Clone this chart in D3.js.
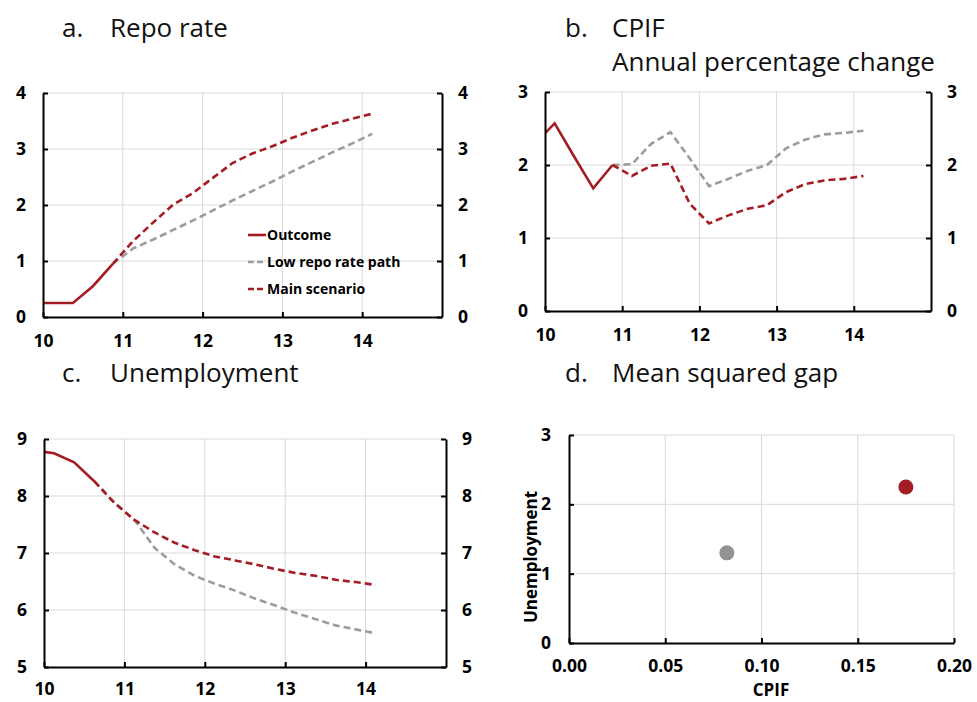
<!DOCTYPE html>
<html>
<head>
<meta charset="utf-8">
<script src="https://cdn.jsdelivr.net/npm/d3@7/dist/d3.min.js"></script>
<style>
  body { margin: 0; background: #fff; }
  text { font-family: "Open Sans", sans-serif; }
</style>
</head>
<body>
<script>
// Repo rate, CPIF and unemployment: outcome vs. two repo rate paths
var width = 977;
var height = 702;

var red = "#a51d24";
var grey = "#9c9c9c";
var gridColor = "#d9d9d9";

// Data (x = year, quarterly mid-points)
var outcomeX = [9.875, 10.125, 10.375, 10.625, 10.875];
var forecastX = [10.875, 11.125, 11.375, 11.625, 11.875, 12.125, 12.375, 12.625,
                 12.875, 13.125, 13.375, 13.625, 13.875, 14.125];

var repoOutcome = [0.25, 0.25, 0.25, 0.55, 0.95];
var repoMain = [0.95, 1.35, 1.68, 2.0, 2.21, 2.48, 2.75, 2.92, 3.05, 3.2, 3.33, 3.45, 3.54, 3.63];
var repoLow = [0.95, 1.22, 1.38, 1.55, 1.72, 1.9, 2.08, 2.25, 2.42, 2.6, 2.77, 2.94, 3.1, 3.27];

var cpifOutcome = [2.3, 2.57, 2.12, 1.68, 2.0];
var cpifMain = [2.0, 1.85, 1.99, 2.02, 1.47, 1.2, 1.31, 1.4, 1.45, 1.63, 1.74, 1.79, 1.81, 1.85];
var cpifLow = [2.0, 2.01, 2.29, 2.45, 2.09, 1.71, 1.81, 1.92, 2.0, 2.23, 2.35, 2.42, 2.44, 2.47];

var unempOutcomeX = [9.875, 10.125, 10.375, 10.625];
var unempForecastX = [10.625, 10.875, 11.125, 11.375, 11.625, 11.875, 12.125, 12.375,
                      12.625, 12.875, 13.125, 13.375, 13.625, 13.875, 14.125];
var unempOutcome = [8.8, 8.75, 8.59, 8.26];
var unempMain = [8.26, 7.88, 7.58, 7.36, 7.18, 7.05, 6.94, 6.87, 6.8, 6.72, 6.65, 6.6, 6.53, 6.49, 6.44];
var unempLow = [8.26, 7.88, 7.58, 7.09, 6.8, 6.6, 6.46, 6.34, 6.2, 6.08, 5.95, 5.84, 5.73, 5.66, 5.59];

var gapScenarios = ["Low repo rate path", "Main scenario"];
var gapCpif = [0.082, 0.175];
var gapUnemp = [1.3, 2.25];

var yearTicks = [10, 11, 12, 13, 14];
var legendLabels = ["Outcome", "Low repo rate path", "Main scenario"];

var svg = d3.select("body")
  .append("svg")
  .attr("width", width)
  .attr("height", height);

function zip(xs, ys) {
  return xs.map(function(x, i) { return {x: x, y: ys[i]}; });
}

// Draws one time-series panel with left and right axes
function timePanel(box, yDomain, yTicks, series, id) {
  var x = d3.scaleLinear().domain([10, 15]).range([box.l, box.r]);
  var y = d3.scaleLinear().domain(yDomain).range([box.b, box.t]);
  var g = svg.append("g");

  // gridlines
  g.selectAll(".hgrid").data(yTicks.slice(1)).enter().append("line")
    .attr("x1", box.l).attr("x2", box.r)
    .attr("y1", function(d) { return y(d); }).attr("y2", function(d) { return y(d); })
    .attr("stroke", gridColor).attr("stroke-width", 1);
  g.selectAll(".vgrid").data(yearTicks.slice(1)).enter().append("line")
    .attr("x1", function(d) { return x(d); }).attr("x2", function(d) { return x(d); })
    .attr("y1", box.t).attr("y2", box.b)
    .attr("stroke", gridColor).attr("stroke-width", 1);

  // clip
  svg.append("clipPath").attr("id", id)
    .append("rect").attr("x", box.l).attr("y", box.t - 5)
    .attr("width", box.r - box.l).attr("height", box.b - box.t + 10);

  var line = d3.line()
    .x(function(d) { return x(d.x); })
    .y(function(d) { return y(d.y); });

  var lg = g.append("g").attr("clip-path", "url(#" + id + ")");
  series.forEach(function(s) {
    lg.append("path")
      .datum(s.data)
      .attr("d", line)
      .attr("fill", "none")
      .attr("stroke", s.color)
      .attr("stroke-width", 2.6)
      .attr("stroke-dasharray", s.dash ? "7,4" : null);
  });

  // axes
  var left = g.append("g").attr("transform", "translate(" + box.l + ",0)")
    .call(d3.axisLeft(y).tickValues(yTicks).tickSize(-5).tickSizeOuter(0).tickPadding(17)
      .tickFormat(d3.format("d")));
  var right = g.append("g").attr("transform", "translate(" + box.r + ",0)")
    .call(d3.axisRight(y).tickValues(yTicks).tickSize(-5).tickSizeOuter(0).tickPadding(16)
      .tickFormat(d3.format("d")));
  var bottom = g.append("g").attr("transform", "translate(0," + box.b + ")")
    .call(d3.axisBottom(x).tickValues(yearTicks).tickSize(-5).tickSizeOuter(0).tickPadding(box.pad)
      .tickFormat(d3.format("d")));
  [left, right, bottom].forEach(function(a) {
    a.select(".domain").attr("stroke", "#000").attr("stroke-width", 2);
    a.selectAll(".tick line").attr("stroke", "#000").attr("stroke-width", 2);
    a.selectAll(".tick text").attr("fill", "#000")
      .style("font-size", "17.5px").style("font-weight", "bold")
      .style("font-family", "'Open Sans', sans-serif");
  });
  return {x: x, y: y, g: g};
}

function title(xLetter, xText, yBase, letter, lines) {
  var t = svg.append("g");
  t.append("text").attr("x", xLetter).attr("y", yBase).text(letter)
    .style("font-size", "26px").attr("fill", "#111");
  lines.forEach(function(s, i) {
    t.append("text").attr("x", xText).attr("y", yBase + i * 34).text(s)
      .style("font-size", "26px").attr("fill", "#111");
  });
}

// a. Repo rate
var pa = timePanel({l: 43, r: 442, t: 93, b: 317, pad: 18}, [0, 4], [0, 1, 2, 3, 4], [
  {data: zip(forecastX, repoLow), color: grey, dash: true},
  {data: zip(forecastX, repoMain), color: red, dash: true},
  {data: zip(outcomeX, repoOutcome), color: red, dash: false}
], "clipA");

// legend
var legendColors = [red, grey, red];
var legendDash = [false, true, true];
var legend = svg.append("g").attr("transform", "translate(248,235)");
legendLabels.forEach(function(lab, i) {
  var row = legend.append("g").attr("transform", "translate(0," + (i * 27) + ")");
  row.append("line").attr("x1", 0).attr("x2", 18).attr("y1", 0).attr("y2", 0)
    .attr("stroke", legendColors[i]).attr("stroke-width", 2.6)
    .attr("stroke-dasharray", legendDash[i] ? "6,3" : null);
  row.append("text").attr("x", 19).attr("y", 0).attr("dy", "0.35em").text(lab)
    .style("font-size", "14px").style("font-weight", "bold").attr("fill", "#000");
});

// b. CPIF
timePanel({l: 545, r: 931, t: 92, b: 311, pad: 18}, [0, 3], [0, 1, 2, 3], [
  {data: zip(forecastX, cpifLow), color: grey, dash: true},
  {data: zip(forecastX, cpifMain), color: red, dash: true},
  {data: zip(outcomeX, cpifOutcome), color: red, dash: false}
], "clipB");

// c. Unemployment
timePanel({l: 44, r: 446, t: 439, b: 667, pad: 16}, [5, 9], [5, 6, 7, 8, 9], [
  {data: zip(unempForecastX, unempLow), color: grey, dash: true},
  {data: zip(unempForecastX, unempMain), color: red, dash: true},
  {data: zip(unempOutcomeX, unempOutcome), color: red, dash: false}
], "clipC");

// d. Mean squared gap
var box = {l: 569, r: 954, t: 435, b: 643};
var xd = d3.scaleLinear().domain([0, 0.2]).range([box.l, box.r]);
var yd = d3.scaleLinear().domain([0, 3]).range([box.b, box.t]);
var gd = svg.append("g");
var xdTicks = [0, 0.05, 0.1, 0.15, 0.2];
var ydTicks = [0, 1, 2, 3];

gd.selectAll(".hgrid").data(ydTicks.slice(1)).enter().append("line")
  .attr("x1", box.l).attr("x2", box.r)
  .attr("y1", function(d) { return yd(d); }).attr("y2", function(d) { return yd(d); })
  .attr("stroke", gridColor);
gd.selectAll(".vgrid").data(xdTicks.slice(1)).enter().append("line")
  .attr("x1", function(d) { return xd(d); }).attr("x2", function(d) { return xd(d); })
  .attr("y1", box.t).attr("y2", box.b)
  .attr("stroke", gridColor);

var dAxes = [
  gd.append("g").attr("transform", "translate(" + box.l + ",0)")
    .call(d3.axisLeft(yd).tickValues(ydTicks).tickSize(-5).tickSizeOuter(0).tickPadding(18)
      .tickFormat(d3.format("d"))),
  gd.append("g").attr("transform", "translate(0," + box.b + ")")
    .call(d3.axisBottom(xd).tickValues(xdTicks).tickSize(-5).tickSizeOuter(0).tickPadding(17)
      .tickFormat(d3.format(".2f")))
];
dAxes.forEach(function(a) {
  a.select(".domain").attr("stroke", "#000").attr("stroke-width", 2);
  a.selectAll(".tick line").attr("stroke", "#000").attr("stroke-width", 2);
  a.selectAll(".tick text").attr("fill", "#000")
    .style("font-size", "17.5px").style("font-weight", "bold");
});

gd.selectAll("circle").data(gapScenarios).enter().append("circle")
  .attr("cx", function(d, i) { return xd(gapCpif[i]); })
  .attr("cy", function(d, i) { return yd(gapUnemp[i]); })
  .attr("r", 7.5)
  .attr("fill", function(d, i) { return i === 0 ? "#939393" : "#a51d24"; });

gd.append("text").attr("x", 771).attr("y", 696).attr("text-anchor", "middle")
  .text("CPIF").style("font-size", "17px").style("font-weight", "bold");
gd.append("text").attr("transform", "translate(537,557) rotate(-90)")
  .attr("text-anchor", "middle").text("Unemployment")
  .style("font-size", "17px").style("font-weight", "bold");

// titles
title(62, 110, 37, "a.", ["Repo rate"]);
title(565, 612, 37, "b.", ["CPIF", "Annual percentage change"]);
title(62, 110, 382, "c.", ["Unemployment"]);
title(565, 612, 382, "d.", ["Mean squared gap"]);
</script>
</body>
</html>
